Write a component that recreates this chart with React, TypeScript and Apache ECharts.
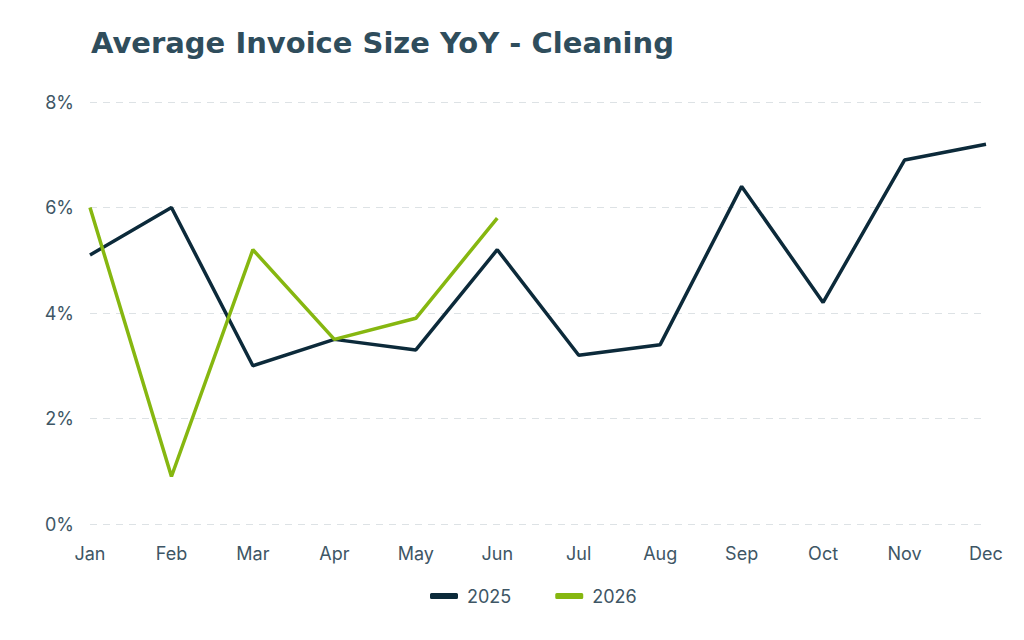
import React, { useEffect, useRef } from "react";
import * as echarts from "echarts";

const months = ["Jan", "Feb", "Mar", "Apr", "May", "Jun", "Jul", "Aug", "Sep", "Oct", "Nov", "Dec"];
const values2025 = [5.1, 6.0, 3.0, 3.5, 3.3, 5.2, 3.2, 3.4, 6.4, 4.2, 6.9, 7.2];
const values2026 = [6.0, 0.9, 5.2, 3.5, 3.9, 5.8];
const titleText = "Average Invoice Size YoY - Cleaning";

const FONT = "Inter, 'Noto Sans', sans-serif";
const LABEL_COLOR = "#3e5665";

export default function App() {
  const ref = useRef<HTMLDivElement>(null);
  useEffect(() => {
    if (!ref.current) return;
    const chart = echarts.init(ref.current, null, { renderer: "svg" });
    chart.setOption({
      animation: false,
      backgroundColor: "#ffffff",
      title: {
        text: titleText,
        left: 86,
        top: 23,
        textStyle: {
          fontFamily: "'DejaVu Sans', Inter, sans-serif",
          fontSize: 29,
          fontWeight: "bold",
          color: "#2f4d5c",
        },
      },
      grid: { left: 90, right: 38, top: 102, bottom: 116, containLabel: false },
      legend: {
        bottom: 30,
        left: 425,
        icon: "roundRect",
        itemWidth: 28,
        itemHeight: 6,
        itemGap: 44,
        textStyle: { fontFamily: FONT, fontSize: 18, color: LABEL_COLOR, padding: [0, 0, 0, 4] },
        data: ["2025", "2026"],
      },
      xAxis: {
        type: "category",
        data: months,
        boundaryGap: false,
        axisLine: { show: false },
        axisTick: { show: false },
        axisLabel: { fontFamily: FONT, fontSize: 18, color: LABEL_COLOR, margin: 20 },
        splitLine: { show: false },
      },
      yAxis: {
        type: "value",
        min: 0,
        max: 8,
        interval: 2,
        axisLine: { show: false },
        axisTick: { show: false },
        axisLabel: {
          fontFamily: FONT,
          fontSize: 18,
          color: LABEL_COLOR,
          margin: 16,
          formatter: (v: number) => `${v}%`,
        },
        splitLine: { lineStyle: { color: "#dde2e5", type: [7, 6], width: 1.2 } },
      },
      series: [
        {
          name: "2025",
          type: "line",
          data: values2025,
          symbol: "none",
          color: "#0c2a3a",
          lineStyle: { width: 3.5, color: "#0c2a3a" },
        },
        {
          name: "2026",
          type: "line",
          data: values2026,
          symbol: "none",
          color: "#86b710",
          lineStyle: { width: 3.5, color: "#86b710" },
        },
      ],
    });
    return () => chart.dispose();
  }, []);
  return (
    <div
      ref={ref}
      style={{ position: "fixed", left: 0, top: 0, width: 1024, height: 640, background: "#fff" }}
    />
  );
}
